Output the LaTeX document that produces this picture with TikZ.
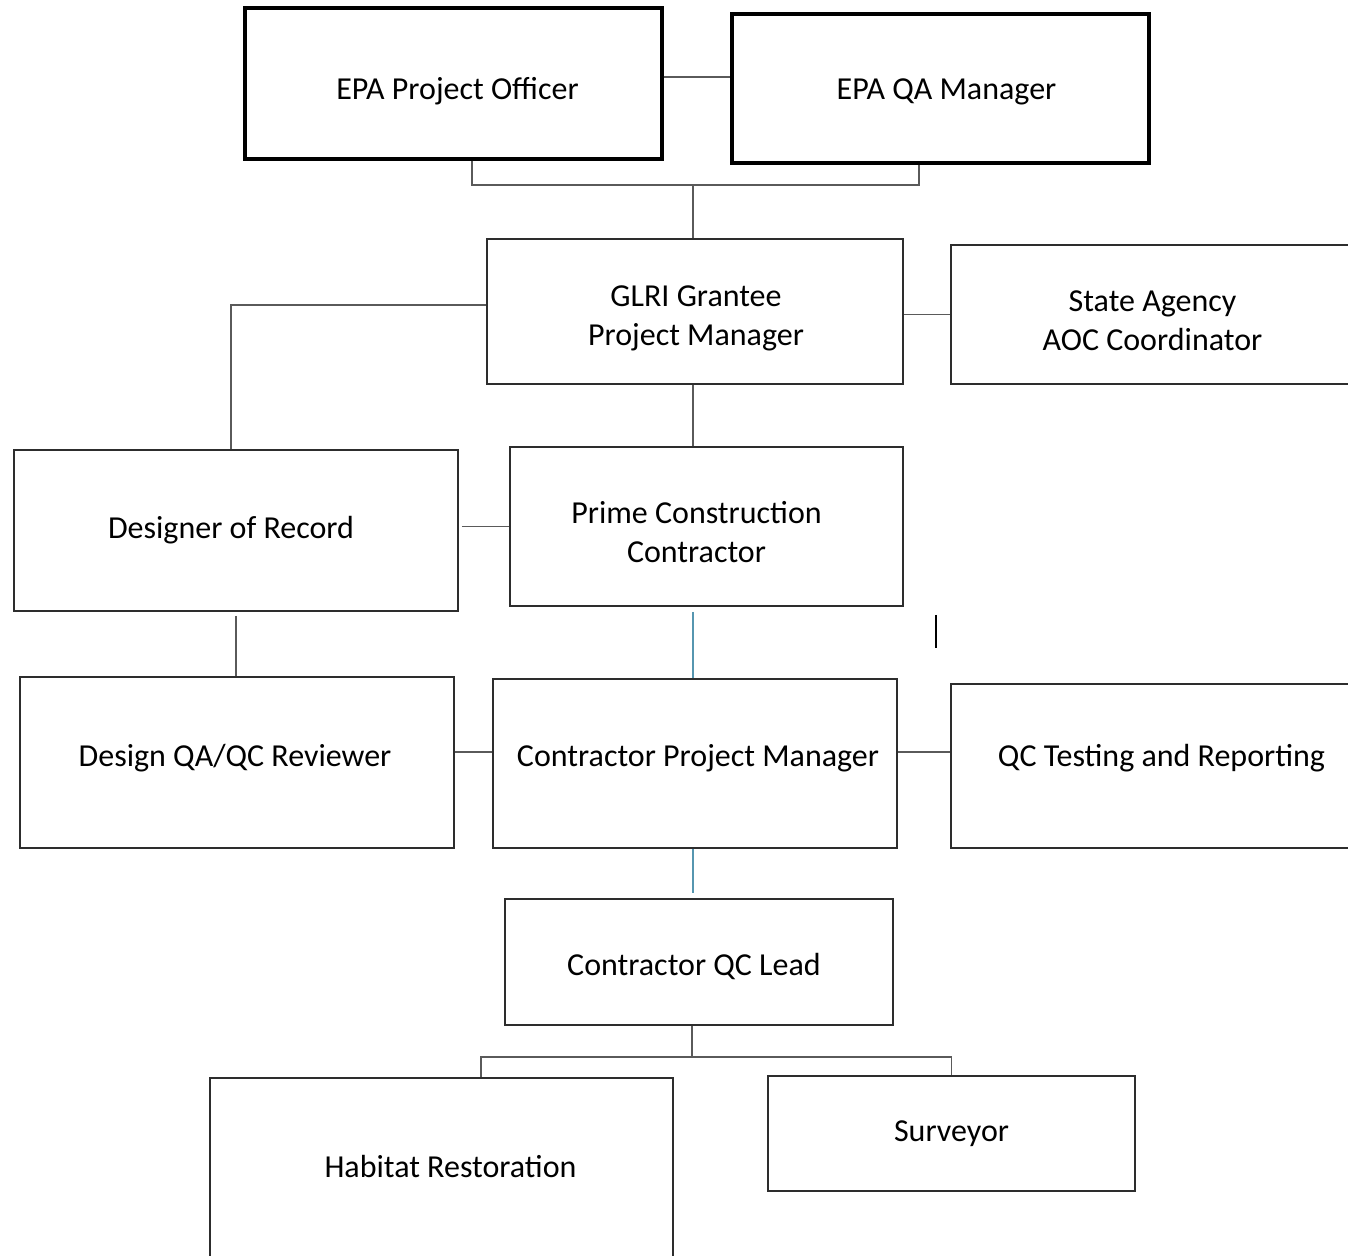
\documentclass[tikz,border=0pt]{standalone}
\usepackage{fontspec}
\setmainfont{Carlito}
\usepackage{xcolor}
\usetikzlibrary{positioning}
\definecolor{boxgray}{RGB}{45,45,45}
\definecolor{linkgray}{RGB}{90,90,90}
\definecolor{tealline}{RGB}{86,150,176}

\begin{document}
\begin{tikzpicture}[
      x=1pt, y=-1pt,
      unit/.style  = {draw=boxgray, line width=1.8pt, inner sep=0pt},
      lead/.style  = {unit, draw=black, line width=3.4pt},
      tag/.style   = {align=center, inner sep=0pt, font=\fontsize{32}{39}\selectfont},
      link/.style  = {linkgray, line width=1.8pt},
      flow/.style  = {tealline, line width=1.8pt},
    ]
    \useasboundingbox (0,0) rectangle (1348,1255);

    \node[lead, minimum width=417pt, minimum height=151pt,
          label={[tag, xshift=4pt, yshift=-8pt]center:EPA Project Officer}]           (epaPO)    at (453.5,83.5)  {};
    \node[lead, minimum width=417pt, minimum height=149pt,
          label={[tag, xshift=6pt, yshift=-3pt]center:EPA QA Manager}]                (epaQA)    at (940.5,88.5)  {};
    \node[unit, minimum width=416pt, minimum height=145pt,
          label={[tag, xshift=1pt, yshift=-7pt]center:GLRI Grantee\\Project Manager}] (glri)     at (695,311.5)   {};
    \node[unit, minimum width=405pt, minimum height=139pt,
          label={[tag, xshift=-1pt, yshift=-6pt]center:State Agency\\AOC Coordinator}](state)    at (1153.5,314.5){};
    \node[unit, minimum width=444pt, minimum height=161pt,
          label={[tag, xshift=-5pt]center:Designer of Record}]                        (dor)      at (236,530.5)   {};
    \node[unit, minimum width=393pt, minimum height=159pt,
          label={[tag, xshift=-10pt, yshift=-6pt]center:Prime Construction\\Contractor}] (prime) at (706.5,526.5) {};
    \node[unit, minimum width=434pt, minimum height=171pt,
          label={[tag, xshift=-2pt, yshift=4pt]center:Design QA/QC Reviewer}]         (dqa)      at (237,762.5)   {};
    \node[unit, minimum width=404pt, minimum height=169pt,
          label={[tag, xshift=3pt, yshift=5pt]center:Contractor Project Manager}]     (cpm)      at (695,763.5)   {};
    \node[unit, minimum width=421pt, minimum height=164pt,
          label={[tag, yshift=8pt]center:QC Testing and Reporting}]                   (qctest)   at (1161.5,766)  {};
    \node[unit, minimum width=388pt, minimum height=126pt,
          label={[tag, xshift=-5pt, yshift=-4pt]center:Contractor QC Lead}]           (qclead)   at (699,962)     {};
    \node[unit, minimum width=463pt, minimum height=180pt,
          label={[tag, xshift=9pt, yshift=2pt]center:Habitat Restoration}]           (habitat)  at (441.5,1168)  {};
    \node[unit, minimum width=367pt, minimum height=115pt,
          label={[tag]center:Surveyor}]                                               (surveyor) at (951.5,1133.5){};

    \coordinate (poJoin)   at ([yshift=6.5pt]epaPO.east);
    \coordinate (epaJoin)  at (693,185);
    \coordinate (glriJoin) at ([yshift=6.5pt]glri.west);
    \coordinate (dqaJoin)  at ([yshift=10.5pt]dqa.east);
    \coordinate (cpmJoin)  at ([yshift=11.5pt]cpm.east);
    \coordinate (leadJoin) at (692,1057);

    \draw[link] (poJoin) -- (poJoin -| epaQA.west);
    \draw[link] ([xshift=18.5pt]epaPO.south) |- (epaJoin) -| ([xshift=-21.5pt]epaQA.south);
    \draw[link] (epaJoin) -- (epaJoin |- glri.north);
    \draw[link] (glri.east |- state.west) -- (state.west);
    \draw[link] (glriJoin) -| ([xshift=-5pt]dor.north);
    \draw[link] (epaJoin |- glri.south) -- (epaJoin |- prime.north);
    \draw[link] ([xshift=3pt]prime.west -| dor.east) -- (prime.west);
    \draw[flow, shorten <=5pt] (epaJoin |- prime.south) -- (epaJoin |- cpm.north);
    \draw[black, line width=1.8pt] ([xshift=32pt,yshift=-8pt]prime.south east) -- ++(0,33);
    \draw[link, shorten <=4pt] (dor.south) -- (dor.south |- dqa.north);
    \draw[link] (dqaJoin) -- (dqaJoin -| cpm.west);
    \draw[link] (cpmJoin) -- (cpmJoin -| qctest.west);
    \draw[flow, shorten >=5pt] (epaJoin |- cpm.south) -- (epaJoin |- qclead.north);
    \draw[link] (leadJoin |- qclead.south) -- (leadJoin);
    \draw[link] ([xshift=39.5pt]habitat.north) |- (leadJoin) -| (surveyor.north);
  \end{tikzpicture}
\end{document}
